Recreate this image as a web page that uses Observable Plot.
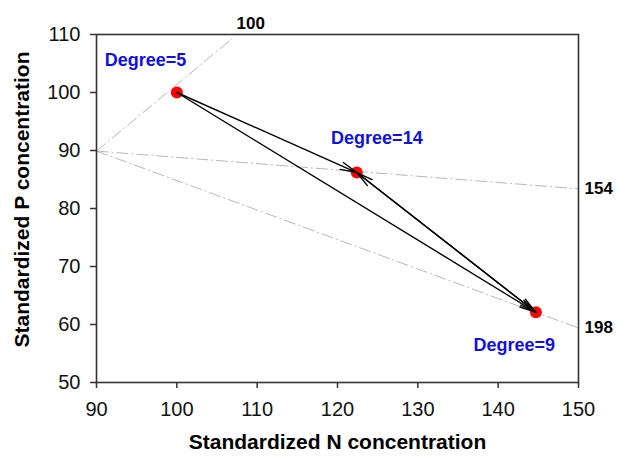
<!DOCTYPE html>
<html>
<head>
<meta charset="utf-8">
<script src="https://cdn.jsdelivr.net/npm/d3@7"></script>
<script src="https://cdn.jsdelivr.net/npm/@observablehq/plot@0.6"></script>
<style>
  html, body { margin: 0; padding: 0; background: #fff; }
  #chart { width: 618px; height: 456px; }
</style>
</head>
<body>
<div id="chart"></div>
<script>
// Points (degree states)
const degrees = [5, 14, 9];
const nConc = [100, 122.4, 144.7];
const pConc = [100, 86.2, 62.1];
const degreeLabelX = [96.1, 124.9, 142.0];
const degreeLabelY = [105.5, 92.2, 56.4];

// Arrows between states (indices)
const arrowFrom = [0, 1, 2, 0];
const arrowTo = [1, 2, 1, 2];

// Reference (ratio) lines from a common origin
const refOriginX = 90;
const refOriginY = 89.9;
const refLabels = ["100", "154", "198"];
const refEndX = [106.9, 150, 150];
const refEndY = [109.3, 83.4, 59.4];
const topRefLabelX = [109.2];
const topRefLabelY = [111.9];

// Axis ticks
const xTicks = [90, 100, 110, 120, 130, 140, 150];
const yTicks = [50, 60, 70, 80, 90, 100, 110];

const points = degrees.map((d, i) => ({degree: d, n: nConc[i], p: pConc[i], lx: degreeLabelX[i], ly: degreeLabelY[i], label: `Degree=${d}`}));
const arrows = arrowFrom.map((f, i) => ({x1: nConc[f], y1: pConc[f], x2: nConc[arrowTo[i]], y2: pConc[arrowTo[i]]}));
const refs = refLabels.map((l, i) => ({label: l, x1: refOriginX, y1: refOriginY, x2: refEndX[i], y2: refEndY[i]}));

const font = "'Liberation Sans', Arial, sans-serif";

const chart = Plot.plot({
  width: 618,
  height: 456,
  marginLeft: 96,
  marginRight: 40,
  marginTop: 34,
  marginBottom: 74,
  style: {fontFamily: font, background: "#fff", color: "#111"},
  x: {domain: [90, 150]},
  y: {domain: [50, 110]},
  marks: [
    Plot.link(refs, {x1: "x1", y1: "y1", x2: "x2", y2: "y2", stroke: "#b8b8b8", strokeWidth: 1, strokeDasharray: "12,3,2,3"}),
    Plot.frame({stroke: "#333", strokeWidth: 1.6}),
    Plot.axisX({ticks: xTicks, tickSize: 6, tickPadding: 13, fontSize: 20, label: null, stroke: "#333", strokeWidth: 1.5}),
    Plot.axisY({ticks: yTicks, tickSize: 6, tickPadding: 10, fontSize: 20, label: null, stroke: "#333", strokeWidth: 1.5}),
    Plot.dot(points, {x: "n", y: "p", r: 6, fill: "#ff0000", stroke: "none"}),
    Plot.arrow(arrows, {x1: "x1", y1: "y1", x2: "x2", y2: "y2", stroke: "#000", strokeWidth: 1.4, headLength: 18, headAngle: 26}),
    Plot.text(points, {x: "lx", y: "ly", text: "label", fill: "#1010e0", fontWeight: "bold", fontSize: 18}),
    Plot.text(refs.slice(0, 1), {x: topRefLabelX, y: topRefLabelY, text: "label", fontWeight: "bold", fontSize: 17, fill: "#000", clip: false}),
    Plot.text(refs.slice(1), {x: "x2", y: "y2", text: "label", dx: 6, textAnchor: "start", fontWeight: "bold", fontSize: 17, fill: "#000"}),
    Plot.text(["Standardized N concentration"], {frameAnchor: "bottom", dy: 66, textAnchor: "middle", fontWeight: "bold", fontSize: 21, fill: "#000"}),
    Plot.text(["Standardized P concentration"], {frameAnchor: "left", dx: -74, dy: -9, textAnchor: "middle", rotate: -90, fontWeight: "bold", fontSize: 21, fill: "#000"})
  ]
});
document.getElementById("chart").appendChild(chart);
</script>
</body>
</html>
